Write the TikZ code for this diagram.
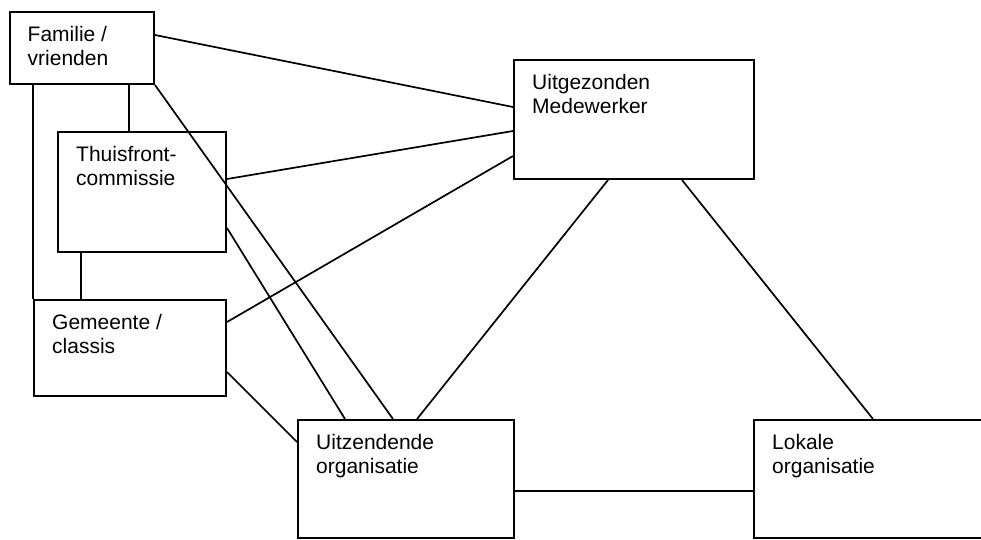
\documentclass[tikz,border=0pt]{standalone}
\usepackage{fontspec}
\setmainfont{Liberation Sans}
\usetikzlibrary{calc}

\begin{document}
\begin{tikzpicture}
[x=1pt,y=-1pt,
 box/.style={draw,line width=2pt,rectangle,anchor=north west,inner sep=0pt},
 txt/.style={anchor=base west,inner sep=0pt,xshift=19pt,yshift=-30pt,
   font=\fontsize{21}{24}\selectfont},
 boxtext/.style={label={[txt]north west:\begin{tabular}[t]{@{}l@{}}#1\end{tabular}}},
 link/.style={line width=1.7pt}]

\clip (0,0) rectangle (981,539);
\fill[white] (0,0) rectangle (981,539);

\node[box,minimum width=144.5pt,minimum height=72pt,boxtext={Familie /\\vrienden}] (fam) at (8.5,11) {};
\node[box,minimum width=168pt,minimum height=120pt,boxtext={Thuisfront-\\commissie}] (thuis) at (57,131) {};
\node[box,minimum width=192pt,minimum height=96pt,boxtext={Gemeente /\\classis}] (gem) at (33,299) {};
\node[box,minimum width=240pt,minimum height=119pt,boxtext={Uitgezonden\\Medewerker}] (uitg) at (513,59) {};
\node[box,minimum width=216pt,minimum height=118pt,boxtext={Uitzendende\\organisatie}] (uitz) at (297,419) {};
\node[box,minimum width=240pt,minimum height=118pt,boxtext={Lokale\\organisatie}] (lok) at (753,419) {};

% links to the worker
\draw[link] ($(fam.north east)+(0,24)$) -- ($(uitg.north west)+(0,48)$);
\draw[link] ($(thuis.north east)+(0,48)$) -- ($(uitg.north west)+(0,72)$);
\draw[link] ($(gem.north east)+(0,23)$) -- ($(uitg.north west)+(0,97)$);

% home front
\draw[link] ($(fam.south west)+(24.5,0)$) -- (gem.north west);
\draw[link] ($(fam.south west)+(120.5,0)$) -- ($(thuis.north west)+(72,0)$);
\draw[link] ($(thuis.south west)+(24,0)$) -- ($(gem.north west)+(48,0)$);

% links to the sending organisation
\draw[link] (fam.south east) -- ($(uitz.north west)+(96,0)$);
\draw[link] ($(thuis.north east)+(0,97)$) -- ($(uitz.north west)+(48,0)$);
\draw[link] ($(gem.north east)+(0,73)$) -- ($(uitz.north west)+(0,23)$);
\draw[link] ($(uitg.south west)+(95,0)$) -- ($(uitz.north west)+(120,0)$);

% local organisation
\draw[link] ($(uitg.south west)+(169,0)$) -- ($(lok.north west)+(120,0)$);
\draw[link] ($(uitz.north east)+(0,72)$) -- ($(lok.north west)+(0,72)$);
\end{tikzpicture}
\end{document}
